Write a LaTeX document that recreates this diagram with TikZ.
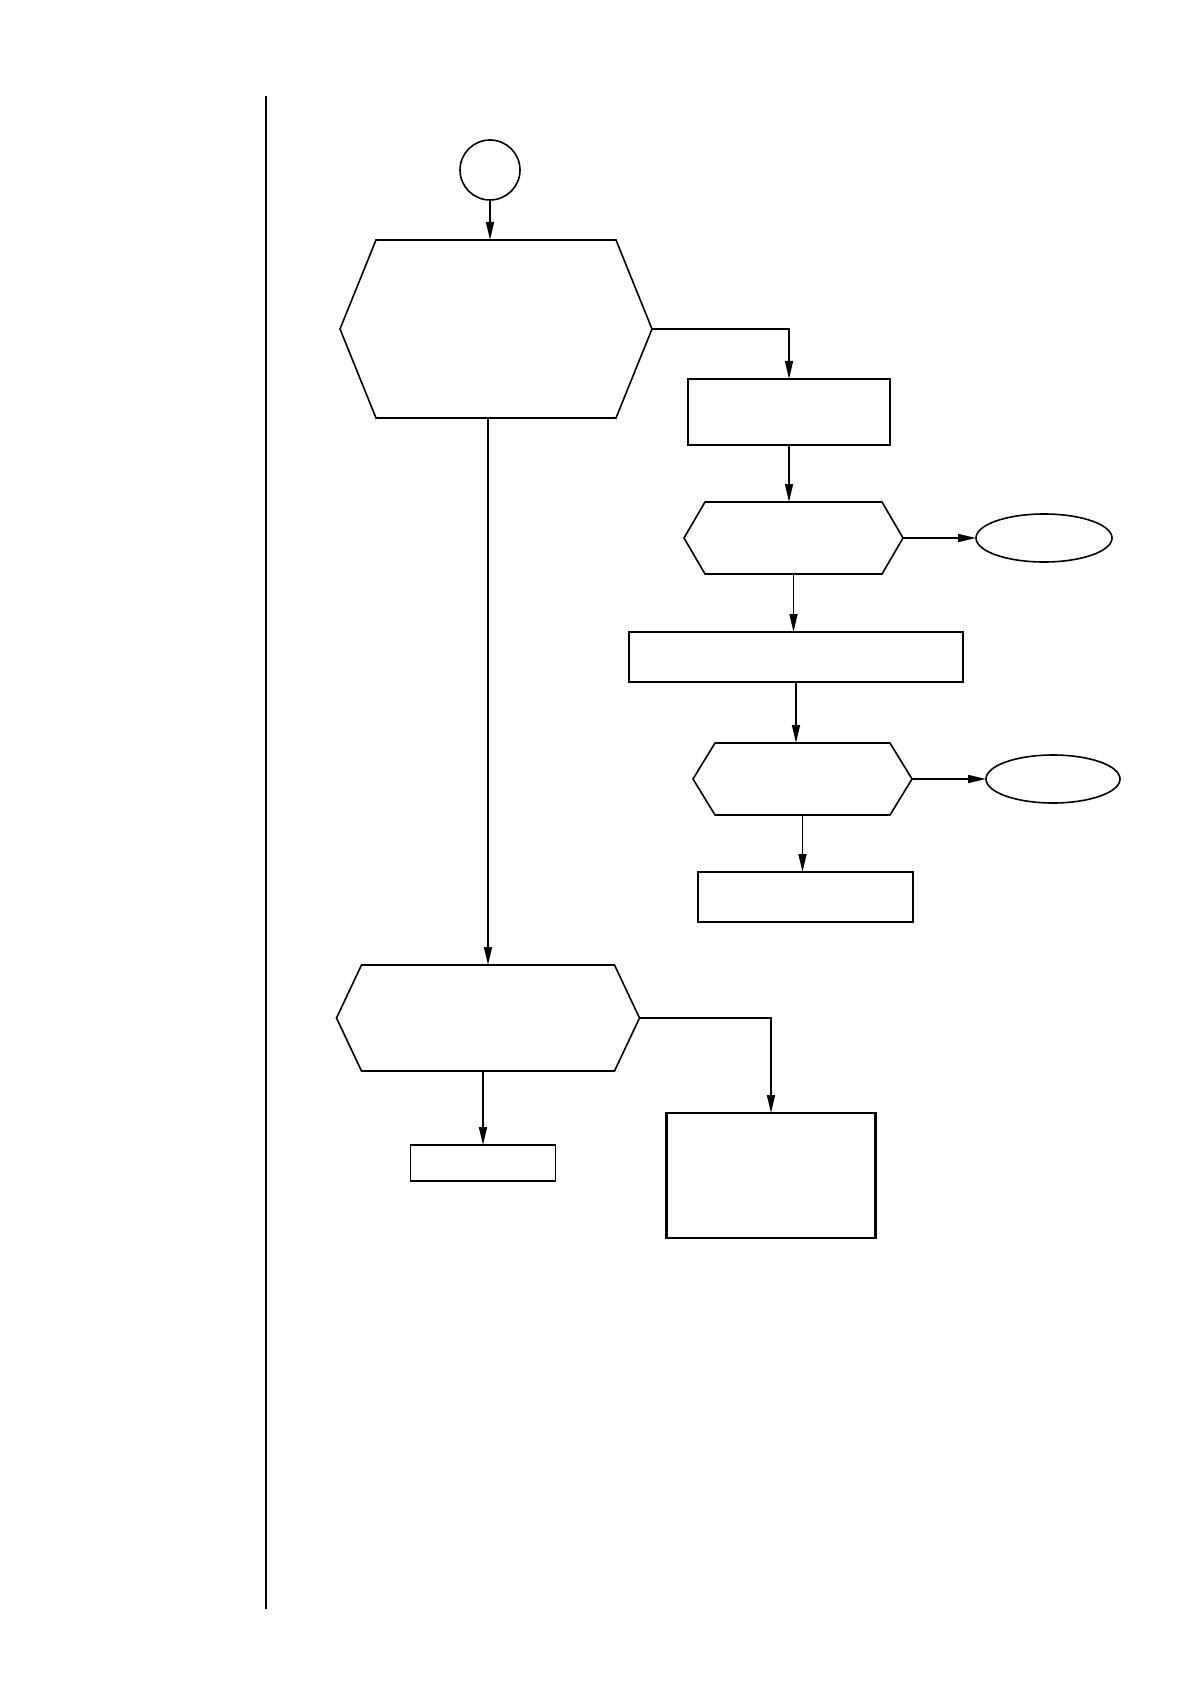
\documentclass[tikz,border=0pt]{standalone}
\usepackage{tikz}
\usetikzlibrary{arrows.meta, positioning, shapes.geometric}

% hexagon frame drawn on a hidden rectangle node
\newcommand{\hexframe}[2]{%
  \draw[line] ([xshift=#2]#1.north west) -- ([xshift=-#2]#1.north east) -- (#1.east)
    -- ([xshift=-#2]#1.south east) -- ([xshift=#2]#1.south west) -- (#1.west) -- cycle;}

\tikzset{
  line/.style={line width=0.8pt},
  flow/.style={line, -{Triangle[length=9pt,width=4pt]}},
  hexbox/.style={rectangle, inner sep=0pt, outer sep=0pt},
  procbox/.style={rectangle, draw, line, inner sep=0pt, outer sep=0pt},
  heavybox/.style={procbox, line width=1.2pt},
  endbox/.style={ellipse, draw, line, inner sep=0pt, outer sep=0pt},
}

\begin{document}
\begin{tikzpicture}[x=0.5pt, y=-0.5pt]
  \useasboundingbox (0,0) rectangle (1190,1684);
  \draw[line] (266,96) -- (266,1609);

  \node (start) [circle, draw, line, minimum size=30pt, inner sep=0pt] at (490,170) {};
  \node (hexa) [hexbox, minimum width=156pt, minimum height=89pt] at (496,329) {};
  \node (boxa) [procbox, minimum width=101pt, minimum height=33pt] at (789,412) {};
  \node (hexb) [hexbox, minimum width=109.5pt, minimum height=36pt] at (793.5,538) {};
  \node (enda) [endbox, minimum width=68pt, minimum height=24pt] at (1044,538) {};
  \node (boxb) [heavybox, minimum width=167pt, minimum height=25pt] at (796,657) {};
  \node (hexc) [hexbox, minimum width=109.5pt, minimum height=36pt] at (802.5,779) {};
  \node (endb) [endbox, minimum width=67pt, minimum height=24pt] at (1053,779) {};
  \node (boxc) [heavybox, minimum width=107.5pt, minimum height=25pt] at (805.5,897) {};
  \node (hexd) [hexbox, minimum width=151.5pt, minimum height=53pt] at (488,1018) {};
  \node (boxd) [procbox, minimum width=72.5pt, minimum height=18pt] at (483,1163) {};
  \node (boxe) [heavybox, minimum width=104.5pt, minimum height=62.5pt] at (771,1175.5) {};

  \hexframe{hexa}{18pt}
  \hexframe{hexb}{10.5pt}
  \hexframe{hexc}{11pt}
  \hexframe{hexd}{12.5pt}

  \draw[flow] (start) -- (start |- hexa.north);
  \draw[flow] (hexa.east) -| (boxa.north);
  \draw[flow] (boxa.south) -- (boxa.south |- hexb.north);
  \draw[flow] (hexb.east) -- (enda.west);
  \draw[flow] (hexb.south) -- (hexb.south |- boxb.north);
  \draw[flow] (boxb.south) -- (boxb.south |- hexc.north);
  \draw[flow] (hexc.east) -- (endb.west);
  \draw[flow] (hexc.south) -- (hexc.south |- boxc.north);
  \draw[flow] (hexd.north |- hexa.south) -- (hexd.north);
  \draw[flow] (boxd.north |- hexd.south) -- (boxd.north);
  \draw[flow] (hexd.east) -| (boxe.north);
\end{tikzpicture}
\end{document}
